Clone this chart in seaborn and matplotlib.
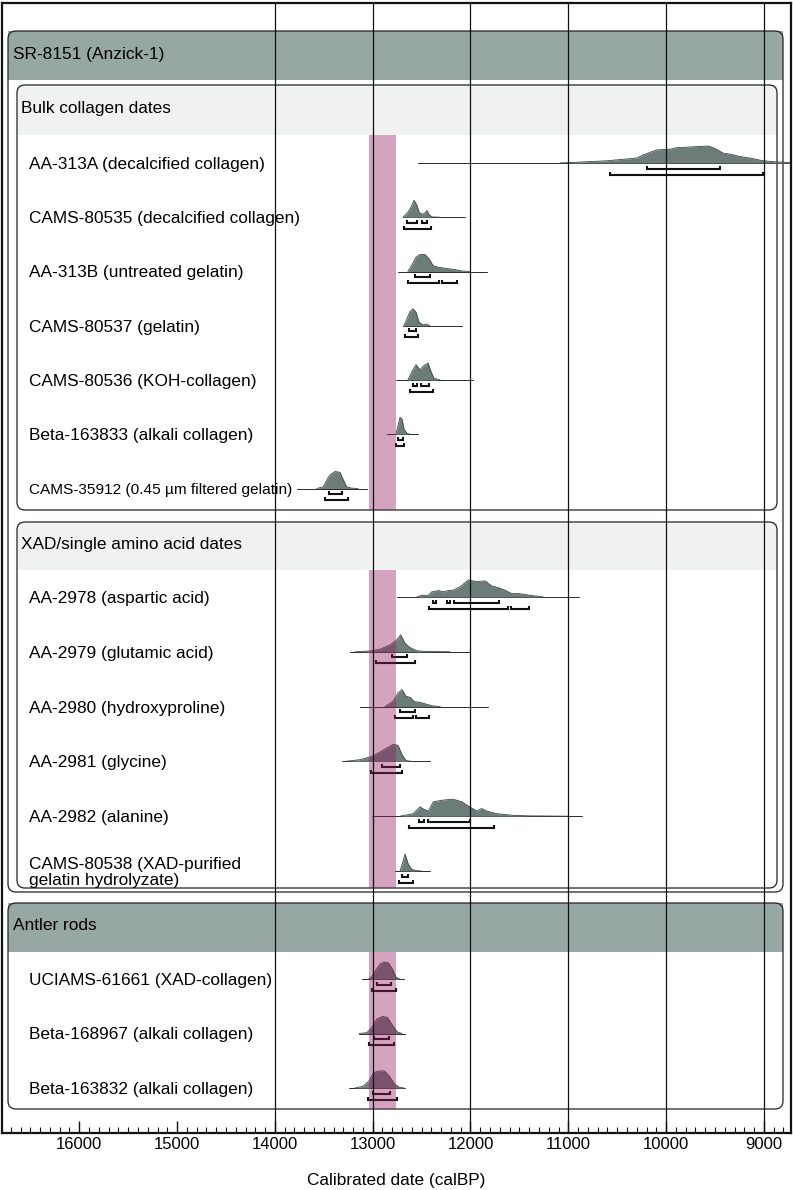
import numpy as np
import pandas as pd
import matplotlib
matplotlib.use('Agg')
import matplotlib.pyplot as plt
import matplotlib.patches as mpatches
import matplotlib.transforms as mtransforms
from matplotlib.ticker import MultipleLocator
import seaborn as sns

# probability profiles: (calBP, relative height)
aa313a_pdf = [(11085, 0), (10607, 0.13), (10301, 0.29), (10233, 0.48), (10096, 0.77), (9960, 0.81),
              (9895, 0.9), (9756, 0.94), (9568, 1.0), (9517, 0.9), (9415, 0.58), (9347, 0.52),
              (9244, 0.38), (9142, 0.29), (9006, 0.13), (8869, 0.06), (8700, 0.02)]
aa313a_span = (12535, 8700)
aa313a_r68 = [(10198, 9449)]
aa313a_r95 = [(10574, 9006)]

cams80535_pdf = [(12690, 0), (12639, 0.3), (12608, 0.6), (12578, 1.0), (12547, 0.7), (12526, 0.3),
                 (12506, 0.2), (12475, 0.2), (12445, 0.4), (12424, 0.15), (12393, 0.02), (12310, 0)]
cams80535_span = (12690, 12057)
cams80535_r68 = [(12650, 12545), (12500, 12440)]
cams80535_r95 = [(12680, 12400)]

aa313b_pdf = [(12640, 0), (12588, 0.5), (12557, 0.85), (12516, 1.0), (12465, 1.0), (12424, 0.75),
              (12383, 0.35), (12332, 0.25), (12270, 0.2), (12209, 0.15), (12147, 0.1), (12086, 0.03),
              (12004, 0)]
aa313b_span = (12740, 11830)
aa313b_r68 = [(12570, 12410)]
aa313b_r95 = [(12640, 12320), (12290, 12140)]

cams80537_pdf = [(12680, 0), (12650, 0.4), (12618, 0.85), (12588, 1.0), (12557, 0.8), (12526, 0.2),
                 (12485, 0.05), (12455, 0.1), (12414, 0)]
cams80537_span = (12690, 12090)
cams80537_r68 = [(12630, 12560)]
cams80537_r95 = [(12670, 12540)]

cams80536_pdf = [(12640, 0), (12598, 0.5), (12557, 0.9), (12516, 0.6), (12475, 0.85), (12434, 1.0),
                 (12404, 0.5), (12373, 0.1), (12310, 0)]
cams80536_span = (12760, 11970)
cams80536_r68 = [(12590, 12545), (12510, 12420)]
cams80536_r95 = [(12620, 12380)]

beta163833_pdf = [(12762, 0), (12741, 0.5), (12721, 1.0), (12700, 0.9), (12680, 0.3), (12649, 0.05),
                  (12618, 0)]
beta163833_span = (12853, 12536)
beta163833_r68 = [(12740, 12695)]
beta163833_r95 = [(12760, 12680)]

cams35912_pdf = [(13573, 0), (13505, 0.1), (13470, 0.5), (13437, 0.8), (13385, 1.0), (13334, 0.95),
                 (13300, 0.5), (13266, 0.1), (13215, 0.02), (13150, 0)]
cams35912_span = (13773, 13058)
cams35912_r68 = [(13444, 13317)]
cams35912_r95 = [(13488, 13250)]

aa2978_pdf = [(12550, 0), (12499, 0.1), (12431, 0.1), (12397, 0.3), (12329, 0.38), (12278, 0.3),
              (12227, 0.38), (12176, 0.4), (12107, 0.6), (12022, 1.0), (11937, 0.9), (11852, 0.95),
              (11783, 0.65), (11716, 0.55), (11647, 0.4), (11579, 0.2), (11511, 0.2), (11443, 0.15),
              (11392, 0.1), (11256, 0)]
aa2978_span = (12755, 10890)
aa2978_r68 = [(12387, 12356), (12245, 12210), (12169, 11709)]
aa2978_r95 = [(12424, 11620), (11590, 11399)]

aa2979_pdf = [(13180, 0), (13028, 0.05), (12925, 0.15), (12823, 0.4), (12755, 0.7), (12714, 1.0),
              (12670, 0.5), (12619, 0.25), (12550, 0.06), (12448, 0.02), (12210, 0)]
aa2979_span = (13232, 12003)
aa2979_r68 = [(12806, 12652)]
aa2979_r95 = [(12970, 12570)]

aa2980_pdf = [(12875, 0), (12793, 0.3), (12741, 0.8), (12700, 1.0), (12659, 0.6), (12618, 0.55),
              (12577, 0.3), (12516, 0.25), (12455, 0.15), (12393, 0.05), (12310, 0)]
aa2980_span = (13130, 11820)
aa2980_r68 = [(12720, 12570)]
aa2980_r95 = [(12775, 12590), (12560, 12420)]

aa2981_pdf = [(13283, 0), (13130, 0.1), (13007, 0.3), (12925, 0.55), (12853, 0.8), (12792, 1.0),
              (12741, 0.95), (12700, 0.4), (12660, 0.05), (12598, 0)]
aa2981_span = (13310, 12410)
aa2981_r68 = [(12903, 12721)]
aa2981_r95 = [(13017, 12700)]

aa2982_pdf = [(12721, 0), (12585, 0.15), (12516, 0.55), (12475, 0.4), (12431, 0.3), (12380, 0.85),
              (12278, 0.95), (12176, 1.0), (12090, 0.85), (12022, 0.6), (11937, 0.3), (11885, 0.45),
              (11834, 0.3), (11732, 0.15), (11562, 0.05), (11392, 0.02), (11000, 0)]
aa2982_span = (13010, 10855)
aa2982_r68 = [(12523, 12475), (12431, 12005)]
aa2982_r95 = [(12626, 11757)]

cams80538_pdf = [(12721, 0), (12693, 0.5), (12670, 1.0), (12636, 0.4), (12601, 0.1), (12550, 0.02),
                 (12500, 0)]
cams80538_span = (12772, 12413)
cams80538_r68 = [(12703, 12636)]
cams80538_r95 = [(12728, 12585)]

uciams61661_pdf = [(13040, 0), (13000, 0.2), (12960, 0.6), (12920, 0.9), (12880, 1.0), (12840, 0.95),
                   (12800, 0.6), (12760, 0.1), (12720, 0)]
uciams61661_span = (13112, 12680)
uciams61661_r68 = [(12959, 12816)]
uciams61661_r95 = [(13010, 12765)]

beta168967_pdf = [(13140, 0), (13060, 0.05), (13010, 0.35), (12960, 0.85), (12900, 1.0), (12850, 0.95),
                  (12800, 0.5), (12750, 0.1), (12700, 0)]
beta168967_span = (13140, 12670)
beta168967_r68 = [(12987, 12838)]
beta168967_r95 = [(13038, 12777)]

beta163832_pdf = [(13180, 0), (13100, 0.1), (13040, 0.4), (12990, 0.9), (12940, 1.0), (12880, 1.0),
                  (12830, 0.7), (12780, 0.25), (12730, 0.05), (12680, 0)]
beta163832_span = (13242, 12670)
beta163832_r68 = [(12994, 12818)]
beta163832_r95 = [(13051, 12751)]

bulk_labels = ['AA-313A (decalcified collagen)', 'CAMS-80535 (decalcified collagen)',
               'AA-313B (untreated gelatin)', 'CAMS-80537 (gelatin)', 'CAMS-80536 (KOH-collagen)',
               'Beta-163833 (alkali collagen)', 'CAMS-35912 (0.45 µm filtered gelatin)']
xad_labels = ['AA-2978 (aspartic acid)', 'AA-2979 (glutamic acid)', 'AA-2980 (hydroxyproline)',
              'AA-2981 (glycine)', 'AA-2982 (alanine)', 'CAMS-80538 (XAD-purified\ngelatin hydrolyzate)']
antler_labels = ['UCIAMS-61661 (XAD-collagen)', 'Beta-168967 (alkali collagen)',
                 'Beta-163832 (alkali collagen)']

bulk_samples = [
    (aa313a_pdf, aa313a_span, aa313a_r68, aa313a_r95),
    (cams80535_pdf, cams80535_span, cams80535_r68, cams80535_r95),
    (aa313b_pdf, aa313b_span, aa313b_r68, aa313b_r95),
    (cams80537_pdf, cams80537_span, cams80537_r68, cams80537_r95),
    (cams80536_pdf, cams80536_span, cams80536_r68, cams80536_r95),
    (beta163833_pdf, beta163833_span, beta163833_r68, beta163833_r95),
    (cams35912_pdf, cams35912_span, cams35912_r68, cams35912_r95),
]
xad_samples = [
    (aa2978_pdf, aa2978_span, aa2978_r68, aa2978_r95),
    (aa2979_pdf, aa2979_span, aa2979_r68, aa2979_r95),
    (aa2980_pdf, aa2980_span, aa2980_r68, aa2980_r95),
    (aa2981_pdf, aa2981_span, aa2981_r68, aa2981_r95),
    (aa2982_pdf, aa2982_span, aa2982_r68, aa2982_r95),
    (cams80538_pdf, cams80538_span, cams80538_r68, cams80538_r95),
]
antler_samples = [
    (uciams61661_pdf, uciams61661_span, uciams61661_r68, uciams61661_r95),
    (beta168967_pdf, beta168967_span, beta168967_r68, beta168967_r95),
    (beta163832_pdf, beta163832_span, beta163832_r68, beta163832_r95),
]

# highlighted interval (calBP)
band_range = (13040, 12760)
major_ticks = list(range(16000, 8999, -1000))
grid_ticks = list(range(14000, 8999, -1000))

# ---------------------------------------------------------------------------
sns.set_theme(style='white')
plt.rcParams['font.family'] = ['Liberation Sans', 'DejaVu Sans']
plt.rcParams['text.color'] = 'black'
plt.rcParams['axes.labelcolor'] = 'black'

W, H = 793, 1190
FILL = '#6b7c79'
EDGE = '#3a4543'
DARK_BAND = '#97a8a4'
LIGHT_BAND = '#f0f1f1'
PINK = '#93195f'
PEAK = 17
FS = 12.4

fig = plt.figure(figsize=(W / 100, H / 100), dpi=100)
ax = fig.add_axes([2 / W, 1 - 1133 / H, 789 / W, 1130 / H])
ax.set_xlim(16790, 8723)
ax.set_ylim(1133, 3)  # y data unit == pixel from top
pix = mtransforms.Affine2D().scale(1 / W, -1 / H).translate(0, 1) + fig.transFigure


def box(x, y, w, h, band_h, band_col):
    b = mpatches.FancyBboxPatch((x, y), w, h, boxstyle='round,pad=0,rounding_size=8',
                                transform=pix, fc='white', ec='none', zorder=1, clip_on=False)
    ax.add_patch(b)
    band = mpatches.Rectangle((x, y), w, band_h, transform=pix, fc=band_col, ec='none',
                              zorder=1.1, clip_on=False)
    ax.add_patch(band)
    band.set_clip_path(b)
    ax.add_patch(mpatches.FancyBboxPatch((x, y), w, h, boxstyle='round,pad=0,rounding_size=8',
                                         transform=pix, fill=False, ec='#222222', lw=0.9,
                                         zorder=1.2, clip_on=False))


def draw_sample(pdf, span, r68, r95, y0):
    d = pd.DataFrame(pdf, columns=['cal', 'p'])
    d['top'] = y0 - PEAK * d['p']
    ax.plot(span, [y0, y0], color='#2b2b2b', lw=0.7, zorder=2)
    ax.fill_between(d['cal'], y0, d['top'], color=FILL, lw=0, zorder=2.1)
    sns.lineplot(data=d, x='cal', y='top', ax=ax, color=EDGE, lw=0.6, sort=False,
                 estimator=None, zorder=2.2, legend=False)
    for off, ranges in ((5.5, r68), (11.5, r95)):
        yb = y0 + off
        for a, b in ranges:
            ax.plot([a, a, b, b], [yb - 3, yb, yb, yb - 3], color='#111111', lw=1.5,
                    zorder=2.3, solid_joinstyle='miter', solid_capstyle='butt')


# outer and group boxes
box(8, 31, 775, 861, 49, DARK_BAND)
ax.text(13, 54, 'SR-8151 (Anzick-1)', transform=pix, fontsize=FS, va='center', zorder=5)
box(17, 85, 760, 425, 50, LIGHT_BAND)
ax.text(21, 108, 'Bulk collagen dates', transform=pix, fontsize=FS, va='center', zorder=5)
box(17, 522, 760, 366, 48, LIGHT_BAND)
ax.text(21, 544, 'XAD/single amino acid dates', transform=pix, fontsize=FS, va='center', zorder=5)
box(8, 903, 775, 206, 49, DARK_BAND)
ax.text(13, 926, 'Antler rods', transform=pix, fontsize=FS, va='center', zorder=5)

groups = [
    (bulk_labels, bulk_samples, 163, 54.25, (135, 510)),
    (xad_labels, xad_samples, 597, 54.8, (570, 888)),
    (antler_labels, antler_samples, 979, 54.5, (952, 1109)),
]
for labels, samples, first, step, (b0, b1) in groups:
    for i, (lab, s) in enumerate(zip(labels, samples)):
        y0 = first + i * step
        size = 11.1 if 'µm' in lab else FS
        ax.text(29, y0 + 1.5, lab, transform=pix, fontsize=size, va='center',
                linespacing=1.05, zorder=5)
        draw_sample(*s, y0)
    ax.add_patch(mpatches.Rectangle((band_range[1], b0), band_range[0] - band_range[1], b1 - b0,
                                    fc=PINK, alpha=0.4, ec='none', zorder=3))

ax.vlines(grid_ticks, 3, 1133, color='#111111', lw=0.9, zorder=4)

ax.set_xticks(major_ticks)
ax.set_xticklabels([str(t) for t in major_ticks])
ax.xaxis.set_minor_locator(MultipleLocator(100))
ax.tick_params(axis='x', which='major', direction='in', length=9, width=1, pad=3,
               labelsize=12, bottom=True, colors='#111111', labelcolor='black')
ax.tick_params(axis='x', which='minor', direction='in', length=4, width=0.8, bottom=True,
               colors='#111111')
ax.set_yticks([])
ax.set_ylabel('')
ax.set_xlabel('Calibrated date (calBP)', fontsize=FS, labelpad=15, color='black')
for sp in ax.spines.values():
    sp.set_visible(True)
    sp.set_color('#111111')
    sp.set_linewidth(1.6)
ax.set_facecolor('white')

fig.savefig('out.png', dpi=100, facecolor='white')
